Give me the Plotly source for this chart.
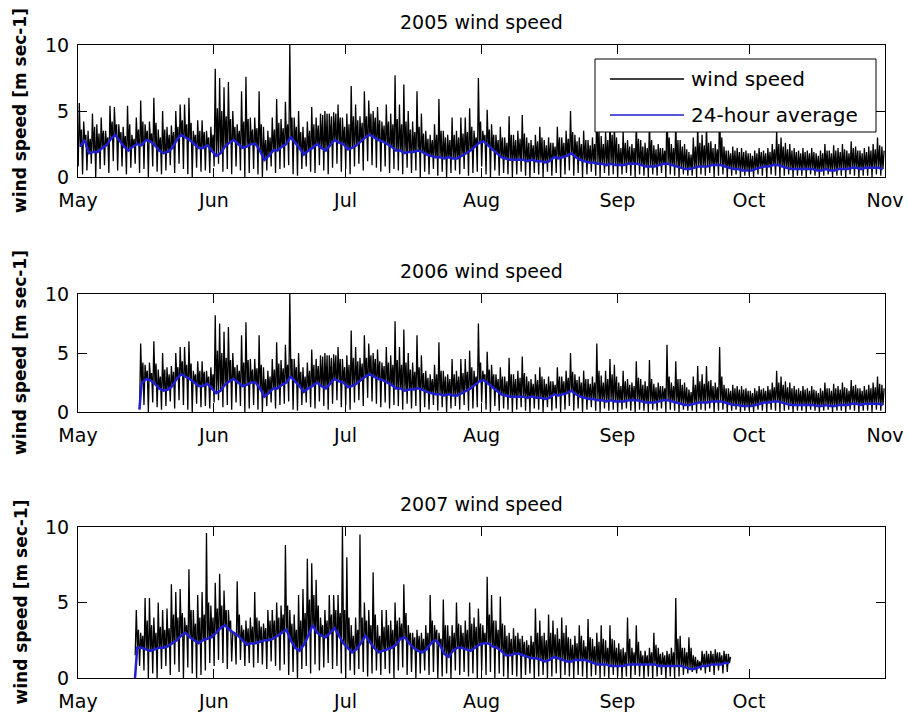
import pandas as pd
import plotly.graph_objects as go

W, H = 909, 713

MONTH_STARTS = ["05-01", "06-01", "07-01", "08-01", "09-01", "10-01", "11-01"]
MONTH_LABELS = ["May", "Jun", "Jul", "Aug", "Sep", "Oct", "Nov"]
Y_TICKS = [0, 5, 10]

# Measured record shown in the 2005 and 2006 panels, one value per day from May 1 [m/s]
# peak: highest hourly value, upper: top of the bulk of hourly values, low: lowest hourly value
peak_0506 = [
    5.6, 4.2, 3.5, 4.8, 4.0, 4.5, 3.5, 5.4, 5.3, 4.0,
    3.8, 5.4, 3.2, 4.5, 5.8, 4.0, 4.2, 6.0, 3.6, 5.0,
    3.8, 3.9, 5.0, 5.5, 5.5, 6.0, 3.5, 4.3, 4.3, 3.5,
    3.8, 8.2, 7.5, 6.8, 7.2, 5.0, 4.0, 6.5, 7.6, 4.5,
    4.5, 6.5, 3.8, 3.5, 4.5, 5.9, 4.4, 5.7, 10.0, 4.5,
    5.0, 3.8, 4.2, 5.3, 4.5, 4.8, 5.0, 4.8, 4.9, 5.5,
    4.5, 4.8, 6.9, 5.5, 4.6, 6.5, 5.8, 5.0, 5.3, 4.2,
    5.5, 4.8, 7.7, 5.5, 7.0, 5.0, 4.2, 6.5, 4.8, 3.5,
    3.2, 4.0, 5.9, 3.5, 3.2, 4.5, 3.5, 4.5, 4.5, 5.2,
    3.5, 7.5, 3.5, 5.1, 4.0, 3.2, 3.8, 3.0, 4.6, 3.2,
    3.5, 4.7, 3.0, 2.8, 3.2, 3.8, 2.8, 3.0, 2.6, 3.8,
    3.0, 3.5, 5.0, 3.2, 3.0, 3.5, 2.8, 3.0, 5.8, 3.1,
    3.5, 4.5, 4.0, 2.5, 3.5, 2.8, 2.5, 4.3, 2.8, 2.6,
    4.4, 2.4, 2.5, 2.2, 5.7, 2.5, 4.3, 2.8, 2.5, 1.9,
    3.0, 3.9, 3.2, 3.9, 2.7, 2.5, 5.5, 2.3, 2.0, 2.3,
    2.2, 2.2, 2.0, 1.8, 2.0, 2.2, 2.0, 2.2, 2.5, 3.5,
    3.0, 2.6, 2.5, 2.2, 2.0, 2.2, 2.0, 2.2, 1.8, 2.0,
    2.5, 2.0, 2.4, 2.2, 2.5, 2.0, 2.7, 2.3, 2.0, 2.2,
    2.3, 2.5, 3.0, 2.3,
]
upper_0506 = [
    3.6, 3.2, 2.9, 3.8, 3.3, 3.5, 3.0, 4.2, 4.0, 3.4,
    3.1, 4.0, 2.9, 3.6, 4.2, 3.5, 3.3, 4.1, 3.0, 3.6,
    3.2, 3.4, 3.8, 4.3, 4.0, 4.1, 3.2, 3.5, 3.4, 3.0,
    3.2, 5.2, 5.0, 4.6, 4.4, 3.8, 3.5, 4.2, 4.4, 3.6,
    3.7, 4.0, 2.8, 3.0, 3.6, 4.1, 3.7, 4.0, 4.5, 3.8,
    3.4, 3.0, 3.5, 4.0, 3.9, 4.7, 4.8, 4.6, 4.8, 4.5,
    3.8, 4.0, 4.6, 4.3, 4.1, 4.6, 4.8, 4.5, 4.3, 3.9,
    4.2, 4.0, 4.4, 4.0, 4.2, 3.6, 3.4, 3.8, 3.3, 2.9,
    2.8, 3.2, 3.5, 3.0, 2.8, 3.2, 3.0, 3.3, 3.4, 3.8,
    3.0, 4.2, 3.2, 3.6, 3.2, 2.8, 3.0, 2.6, 3.2, 2.8,
    2.9, 3.3, 2.6, 2.4, 2.7, 3.0, 2.4, 2.6, 2.3, 3.0,
    2.6, 2.9, 3.4, 2.7, 2.5, 2.8, 2.4, 2.5, 3.5, 2.5,
    2.8, 3.2, 3.0, 2.2, 2.6, 2.3, 2.2, 2.9, 2.3, 2.2,
    2.8, 2.1, 2.2, 2.0, 3.0, 2.2, 2.8, 2.3, 2.1, 1.7,
    2.3, 2.6, 2.4, 2.6, 2.2, 2.1, 3.0, 2.0, 1.8, 2.0,
    1.9, 1.9, 1.8, 1.6, 1.8, 1.9, 1.8, 1.9, 2.1, 2.5,
    2.3, 2.1, 2.0, 1.9, 1.8, 1.9, 1.8, 1.9, 1.6, 1.8,
    2.0, 1.8, 2.0, 1.9, 2.1, 1.8, 2.2, 2.0, 1.8, 1.9,
    2.0, 2.1, 2.4, 2.0,
]
low_0506 = [
    0.8, 0.2, 0.5, 1.0, 0.0, 0.6, 0.9, 0.3, 1.2, 0.5,
    0.8, 0.2, 0.7, 1.0, 0.3, 0.6, 0.0, 0.8, 0.4, 0.2,
    0.5, 0.9, 0.3, 1.0, 0.6, 0.2, 0.0, 0.7, 0.4, 0.5,
    0.3, 0.8, 1.0, 0.4, 0.6, 0.2, 0.8, 0.5, 0.0, 0.3,
    0.6, 0.2, 0.0, 0.5, 0.8, 0.3, 0.6, 0.7, 0.9, 0.2,
    0.1, 0.6, 0.8, 0.4, 0.3, 0.9, 0.5, 0.2, 0.7, 1.0,
    0.4, 0.6, 0.2, 0.8, 1.0, 0.5, 1.2, 0.9, 0.7, 0.4,
    0.8, 0.3, 0.6, 0.5, 0.2, 0.7, 0.3, 0.5, 0.0, 0.4,
    0.2, 0.6, 0.1, 0.4, 0.0, 0.3, 0.5, 0.2, 0.6, 0.1,
    0.3, 0.4, 0.8, 0.2, 0.0, 0.5, 0.1, 0.3, 0.2, 0.0,
    0.2, 0.4, 0.1, 0.0, 0.3, 0.2, 0.0, 0.4, 0.1, 0.3,
    0.0, 0.2, 0.5, 0.1, 0.3, 0.0, 0.2, 0.4, 0.1, 0.0,
    0.3, 0.1, 0.2, 0.0, 0.2, 0.3, 0.1, 0.0, 0.2, 0.1,
    0.0, 0.2, 0.1, 0.3, 0.0, 0.2, 0.1, 0.0, 0.2, 0.1,
    0.1, 0.0, 0.2, 0.1, 0.3, 0.0, 0.1, 0.2, 0.0, 0.1,
    0.2, 0.0, 0.1, 0.1, 0.0, 0.2, 0.1, 0.0, 0.2, 0.1,
    0.0, 0.1, 0.2, 0.0, 0.1, 0.1, 0.0, 0.2, 0.1, 0.0,
    0.1, 0.2, 0.0, 0.1, 0.1, 0.0, 0.2, 0.1, 0.0, 0.1,
    0.1, 0.0, 0.2, 0.1,
]
mean_0506 = [
    2.3, 2.8, 1.8, 1.9, 1.9, 2.2, 2.4, 2.9, 3.2, 2.7,
    2.3, 2.0, 2.3, 2.5, 2.4, 2.8, 2.7, 2.4, 2.0, 1.8,
    1.9, 2.2, 2.8, 3.2, 3.0, 2.8, 2.5, 2.2, 2.2, 2.4,
    2.0, 1.6, 1.8, 2.3, 2.6, 2.8, 2.5, 2.2, 2.3, 2.5,
    2.5, 2.0, 1.3, 1.6, 2.0, 2.0, 2.3, 2.5, 3.0, 2.6,
    2.2, 1.7, 2.0, 2.2, 2.5, 2.2, 2.0, 2.4, 2.8, 2.6,
    2.5, 2.1, 2.2, 2.4, 2.7, 3.0, 3.2, 3.0, 2.8, 2.7,
    2.5, 2.3, 2.0, 2.0, 1.8, 1.9, 1.9, 2.0, 1.9, 1.7,
    1.6, 1.5, 1.5, 1.4, 1.5, 1.4, 1.4, 1.6, 1.8, 2.0,
    2.3, 2.6, 2.7, 2.4, 2.1, 1.8, 1.5, 1.4, 1.3, 1.3,
    1.3, 1.3, 1.2, 1.3, 1.2, 1.2, 1.1, 1.2, 1.5, 1.4,
    1.5, 1.6, 1.8, 1.5, 1.3, 1.2, 1.1, 1.1, 1.0, 1.0,
    0.9, 1.0, 0.9, 0.9, 0.9, 1.0, 1.0, 1.0, 0.9, 0.8,
    0.8, 0.8, 0.9, 1.0, 1.0, 0.9, 0.8, 0.7, 0.6, 0.6,
    0.7, 0.8, 0.8, 0.8, 0.9, 0.9, 0.9, 0.8, 0.7, 0.6,
    0.6, 0.5, 0.5, 0.5, 0.6, 0.7, 0.8, 0.8, 0.9, 0.9,
    0.8, 0.7, 0.6, 0.6, 0.6, 0.6, 0.6, 0.6, 0.5, 0.5,
    0.6, 0.5, 0.5, 0.6, 0.6, 0.6, 0.7, 0.7, 0.6, 0.7,
    0.7, 0.7, 0.7, 0.6,
]

# 2007 record, one value per day from May 14 [m/s]
peak_2007 = [
    4.5, 3.0,
    5.3, 5.3, 4.0, 5.0, 4.5, 4.6, 6.2, 5.7, 5.9, 4.0,
    7.2, 4.5, 5.5, 5.7, 9.6, 4.8, 6.3, 6.9, 5.8, 4.5,
    3.0, 6.4, 3.5, 3.8, 4.0, 5.7, 3.8, 3.6, 4.5, 4.5,
    5.0, 4.8, 8.8, 4.5, 4.2, 5.5, 5.9, 7.9, 7.6, 6.5,
    4.0, 4.5, 5.5, 5.5, 5.5, 10.0, 8.0, 3.5, 4.0, 9.5,
    5.0, 4.5, 7.0, 3.5, 4.5, 4.5, 3.8, 5.0, 4.0, 6.2,
    3.5, 3.0, 3.2, 3.0, 3.5, 5.5, 3.5, 3.0, 5.2, 3.5,
    3.5, 5.0, 3.5, 3.8, 5.0, 4.0, 4.6, 3.5, 6.7, 5.5,
    3.8, 5.4, 3.5, 3.0, 3.3, 3.0, 2.8, 2.5, 2.8, 4.6,
    3.8, 3.0, 4.2, 3.8, 3.3, 4.0, 3.5, 2.6, 2.8, 3.5,
    2.5, 3.9, 2.6, 3.0, 3.5, 2.5, 3.5, 2.5, 2.3, 2.0,
    4.0, 2.0, 3.5, 1.8, 1.8, 2.0, 3.0, 2.0, 1.7, 1.8,
    2.0, 5.3, 2.8, 2.0, 2.7, 1.5, 1.2, 1.8, 1.8, 1.8,
    1.9, 1.7, 1.8, 1.6,
]
upper_2007 = [
    3.2, 2.8,
    3.8, 3.5, 3.0, 3.4, 3.2, 3.3, 4.2, 4.0, 4.3, 3.5,
    4.5, 3.6, 4.0, 4.2, 5.0, 4.0, 4.6, 4.8, 4.5, 3.8,
    2.8, 4.2, 3.2, 3.3, 3.4, 4.0, 3.4, 3.3, 3.8, 3.8,
    4.0, 4.2, 4.8, 3.6, 3.2, 3.8, 4.3, 5.2, 5.5, 4.8,
    3.5, 3.8, 4.2, 4.5, 4.3, 4.5, 4.0, 2.8, 3.2, 4.0,
    3.8, 3.5, 4.2, 2.8, 3.4, 3.5, 3.2, 3.8, 3.6, 4.3,
    3.0, 2.7, 2.8, 2.6, 3.0, 3.8, 3.2, 2.6, 3.5, 2.8,
    3.0, 3.6, 3.0, 3.2, 3.6, 3.4, 3.6, 3.0, 4.2, 3.8,
    3.2, 3.6, 2.8, 2.6, 2.8, 2.6, 2.4, 2.2, 2.4, 3.0,
    2.8, 2.5, 3.0, 2.9, 2.6, 3.0, 2.7, 2.2, 2.3, 2.8,
    2.1, 2.7, 2.1, 2.4, 2.6, 2.0, 2.6, 2.0, 1.9, 1.7,
    2.6, 1.7, 2.4, 1.5, 1.5, 1.7, 2.2, 1.6, 1.5, 1.6,
    1.7, 2.6, 2.0, 1.7, 2.0, 1.4, 1.1, 1.6, 1.6, 1.6,
    1.7, 1.5, 1.6, 1.4,
]
low_2007 = [
    1.5, 0.8,
    0.5, 0.0, 0.3, 0.0, 0.6, 0.8, 0.2, 0.9, 0.4, 0.0,
    0.7, 0.3, 0.0, 0.2, 0.5, 1.0, 0.8, 1.2, 1.0, 0.6,
    1.1, 0.9, 1.2, 0.8, 1.0, 0.7, 1.0, 0.9, 0.6, 1.1,
    0.8, 0.5, 0.9, 0.2, 0.4, 0.0, 0.6, 0.8, 0.3, 0.9,
    0.5, 0.7, 1.0, 0.6, 0.8, 0.3, 0.0, 0.5, 0.2, 0.6,
    0.4, 0.1, 0.3, 0.5, 0.2, 0.6, 0.3, 0.0, 0.5, 0.7,
    0.2, 0.4, 0.0, 0.3, 0.5, 0.2, 0.4, 0.0, 0.1, 0.3,
    0.0, 0.5, 0.2, 0.4, 0.1, 0.3, 0.0, 0.5, 0.2, 0.4,
    0.0, 0.3, 0.1, 0.0, 0.2, 0.1, 0.0, 0.2, 0.3, 0.0,
    0.1, 0.2, 0.0, 0.1, 0.3, 0.0, 0.2, 0.1, 0.0, 0.2,
    0.1, 0.0, 0.1, 0.2, 0.0, 0.1, 0.0, 0.2, 0.1, 0.0,
    0.1, 0.0, 0.2, 0.1, 0.0, 0.1, 0.0, 0.1, 0.2, 0.0,
    0.1, 0.0, 0.1, 0.2, 0.3, 0.4, 0.3, 0.5, 0.3, 0.4,
    0.2, 0.5, 0.3, 0.4,
]
mean_2007 = [
    2.0, 2.0,
    1.9, 1.8, 1.9, 2.0, 2.0, 2.1, 2.3, 2.5, 2.8, 3.0,
    2.7, 2.5, 2.3, 2.5, 2.6, 2.7, 3.0, 3.3, 3.5, 3.2,
    3.0, 2.8, 2.5, 2.2, 2.3, 2.3, 2.4, 2.5, 2.5, 2.6,
    2.8, 3.0, 3.2, 2.5, 2.0, 1.8, 2.2, 2.8, 3.5, 3.0,
    2.8, 2.7, 3.0, 3.3, 2.8, 2.3, 2.0, 1.7, 1.9, 2.3,
    2.8, 2.4, 2.0, 1.7, 1.8, 1.9, 2.0, 2.2, 2.6, 2.7,
    2.3, 2.0, 1.8, 1.7, 1.9, 2.3, 2.5, 2.2, 1.6, 1.4,
    1.8, 2.0, 2.0, 1.9, 1.8, 2.0, 2.2, 2.3, 2.3, 2.1,
    2.0, 1.8, 1.5, 1.5, 1.6, 1.6, 1.5, 1.4, 1.3, 1.3,
    1.2, 1.1, 1.2, 1.4, 1.3, 1.2, 1.1, 1.1, 1.2, 1.2,
    1.2, 1.1, 1.0, 0.9, 0.9, 0.9, 0.8, 0.8, 0.8, 0.8,
    0.9, 0.9, 0.9, 0.9, 0.9, 0.9, 0.9, 0.8, 0.8, 0.8,
    0.8, 0.8, 0.8, 0.7, 0.6, 0.6, 0.7, 0.8, 0.8, 0.9,
    0.9, 0.9, 1.0, 1.0,
]

PANELS = [
    dict(year=2005, first_day="05-01", peak=peak_0506, upper=upper_0506,
         low=low_0506, mean=mean_0506, mean_start=None, n_labels=7),
    dict(year=2006, first_day="05-15", peak=peak_0506[14:], upper=upper_0506[14:],
         low=low_0506[14:], mean=mean_0506[14:], mean_start=0.2, n_labels=7),
    dict(year=2007, first_day="05-14", peak=peak_2007, upper=upper_2007,
         low=low_2007, mean=mean_2007, mean_start=0.0, n_labels=6),
]

# plot boxes in pixels: (top, bottom)
ROWS = [(45, 177), (294, 412), (527, 678)]
LEFT, RIGHT = 78, 885

FONT = "DejaVu Sans"
BLACK = "#000000"
BLUE = "#1f1fd0"


def px_x(x):
    return x / W


def px_y(y):
    return 1 - y / H


fig = go.Figure()
annotations = []
shapes = []

for k, p in enumerate(PANELS):
    n = k + 1
    xa = "x" if n == 1 else f"x{n}"
    ya = "y" if n == 1 else f"y{n}"
    start = pd.Timestamp(f"{p['year']}-{p['first_day']}")

    # hourly record drawn through each day's low, peak, mean and upper excursions
    xs, ys = [], []
    for i, (lo, hi, mid, up) in enumerate(zip(p["low"], p["peak"], p["mean"], p["upper"])):
        day = start + pd.Timedelta(days=i)
        xs += [day + pd.Timedelta(hours=h) for h in (1, 7, 13, 19)]
        ys += [lo, hi, mid, up]
    fig.add_trace(go.Scatter(x=xs, y=ys, mode="lines", xaxis=xa, yaxis=ya,
                             line=dict(color=BLACK, width=1.3), showlegend=False,
                             name="wind speed"))

    mx = [start + pd.Timedelta(days=i, hours=12) for i in range(len(p["mean"]))]
    my = list(p["mean"])
    if p["mean_start"] is not None:
        mx = [start] + mx
        my = [p["mean_start"]] + my
    fig.add_trace(go.Scatter(x=mx, y=my, mode="lines", xaxis=xa, yaxis=ya,
                             line=dict(color=BLUE, width=2.5), showlegend=False,
                             name="24-hour average"))

    top, bottom = ROWS[k]
    tickvals = [f"{p['year']}-{m}" for m in MONTH_STARTS[:p["n_labels"]]]
    axis_common = dict(showline=True, linecolor=BLACK, linewidth=1, mirror="allticks",
                       ticks="inside", ticklen=9, tickcolor=BLACK, tickwidth=1,
                       showgrid=False, zeroline=False, automargin=False,
                       tickfont=dict(family=FONT, size=19, color=BLACK))
    fig.update_layout({
        ("xaxis" if n == 1 else f"xaxis{n}"): dict(
            type="date", domain=[px_x(LEFT), px_x(RIGHT)], anchor=ya,
            range=[f"{p['year']}-05-01", f"{p['year']}-11-01"],
            tickvals=tickvals, ticktext=MONTH_LABELS[:p["n_labels"]],
            ticklabelstandoff=6, **axis_common),
        ("yaxis" if n == 1 else f"yaxis{n}"): dict(
            domain=[px_y(bottom), px_y(top)], anchor=xa, range=[0, 10],
            tickvals=Y_TICKS, ticklabelstandoff=4, **axis_common),
    })

    annotations.append(dict(
        text=f"{p['year']} wind speed", xref="paper", yref="paper",
        x=px_x((LEFT + RIGHT) / 2), y=px_y(top - 23), xanchor="center", yanchor="middle",
        showarrow=False, font=dict(family=FONT, size=19, color=BLACK)))
    annotations.append(dict(
        text="<b>wind speed [m sec-1]</b>", xref="paper", yref="paper",
        x=px_x(20), y=px_y((top + bottom) / 2), xanchor="center", yanchor="middle",
        textangle=-90, showarrow=False, font=dict(family=FONT, size=17, color=BLACK)))

# legend box in the first panel
LEG = dict(x0=595, x1=876, y0=59, y1=132)
shapes.append(dict(type="rect", xref="paper", yref="paper", layer="above",
                   x0=px_x(LEG["x0"]), x1=px_x(LEG["x1"]),
                   y0=px_y(LEG["y1"]), y1=px_y(LEG["y0"]),
                   fillcolor="white", line=dict(color=BLACK, width=1)))
for label, color, yc in [("wind speed", BLACK, 79), ("24-hour average", BLUE, 115)]:
    shapes.append(dict(type="line", xref="paper", yref="paper", layer="above",
                       x0=px_x(610), x1=px_x(684), y0=px_y(yc), y1=px_y(yc),
                       line=dict(color=color, width=1.5)))
    annotations.append(dict(text=label, xref="paper", yref="paper",
                            x=px_x(689), y=px_y(yc), xanchor="left", yanchor="middle",
                            showarrow=False,
                            font=dict(family=FONT, size=20, color=BLACK)))

fig.update_layout(template="none", width=W, height=H,
                  margin=dict(l=0, r=0, t=0, b=0, pad=0),
                  paper_bgcolor="white", plot_bgcolor="white",
                  annotations=annotations, shapes=shapes, showlegend=False)

fig.write_html("out.html")
